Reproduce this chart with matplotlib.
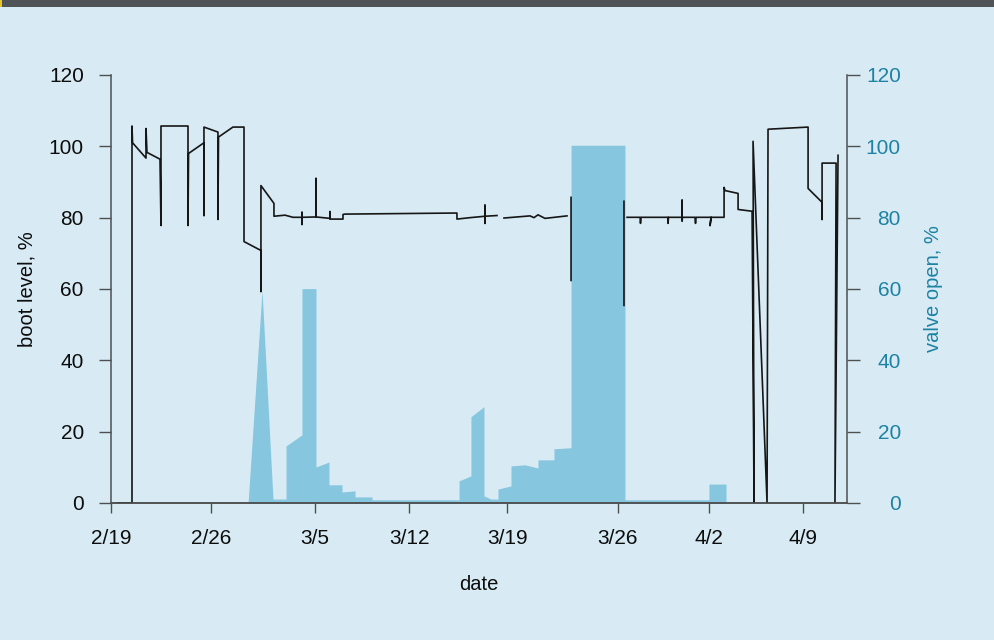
import numpy as np
import matplotlib
matplotlib.use('Agg')
import matplotlib.pyplot as plt
from matplotlib.patches import Rectangle

nan = np.nan

# days after 2/19 (tick positions as drawn in the original, slightly uneven)
tick_pos = [0, 7.14, 14.57, 21.29, 28.29, 36.21, 42.71, 49.43]
tick_labels = ['2/19', '2/26', '3/5', '3/12', '3/19', '3/26', '4/2', '4/9']

# boot level, % (black trace), nan = gap in the record
boot_day = [0.50, 1.50, 1.50, 1.54, 2.50, 2.50, 2.57, 3.50, 3.57, 3.57,
            5.50, 5.50, 5.54, 6.64, 6.64, 6.64, 7.64, 7.64, 7.68, 8.71,
            9.50, 9.50, 10.71, 10.71, 10.71, 11.64, 11.64, 12.43, 13.00,
            13.64, 13.64, 13.64, 13.64, 14.64, 14.64, 14.64, 15.64, 15.64,
            15.64, 16.57, 16.57, 16.71, 24.71, 24.71, 25.64, 26.71, 26.71,
            26.71, 26.71, 27.57, 27.60,
            28.07, 29.93, 30.21, 30.50, 31.00, 32.57, 32.60,
            32.86, 32.86, 32.90,
            36.64, 36.64, 36.70,
            36.86, 37.79, 37.82, 37.86, 39.79, 39.79, 39.82, 40.79, 40.79,
            40.79, 40.82, 41.71, 41.75, 41.79, 42.86, 42.79, 42.86, 43.79,
            43.79, 43.86, 44.79, 44.79, 45.79, 45.93, 45.86, 46.86, 46.93,
            49.79, 49.79, 50.79, 50.79, 50.79, 51.79, 51.71, 51.93]
boot_level = [0, 0, 105.7, 101.0, 96.7, 105.0, 98.3, 96.4, 77.8, 105.7,
              105.7, 77.8, 98.0, 101.0, 80.6, 105.4, 104.0, 79.5, 102.6, 105.4,
              105.4, 73.3, 70.8, 59.3, 89.0, 84.0, 80.4, 80.7, 80.1,
              80.1, 81.5, 78.1, 80.1, 80.2, 91.0, 80.2, 79.8, 81.7,
              79.6, 79.6, 80.9, 81.0, 81.3, 79.6, 80.0, 80.4, 83.5,
              78.4, 80.4, 80.6, nan,
              79.9, 80.5, 80.0, 80.8, 79.8, 80.5, nan,
              85.7, 62.4, nan,
              84.6, 55.4, nan,
              80.1, 80.1, 78.4, 80.1, 80.1, 78.4, 80.1, 80.1, 84.9,
              79.0, 80.1, 80.1, 78.4, 80.1, 80.1, 77.8, 80.1, 80.1,
              88.5, 87.6, 86.8, 82.3, 81.8, 0, 101.4, 0, 104.8,
              105.4, 88.2, 84.3, 79.5, 95.3, 95.3, 0, 97.5]

# valve open, % (filled area)
valve_day = [9.79, 10.79, 11.57, 12.50, 12.50, 13.64, 13.64, 14.64, 14.64,
             15.57, 15.57, 16.50, 16.50, 17.43, 17.43, 18.64, 18.64, 24.86,
             24.86, 25.71, 25.71, 26.64, 26.64, 27.14, 27.64, 27.64, 28.57,
             28.57, 29.57, 30.50, 30.50, 31.64, 31.64, 32.86, 32.86, 36.71,
             36.71, 42.71, 42.71, 43.93, 43.93]
valve_open = [0, 59.6, 1.1, 1.1, 16.0, 19.1, 60.1, 60.1, 10.1,
              11.5, 5.1, 5.1, 3.1, 3.4, 1.7, 1.7, 0.9, 0.9,
              6.2, 7.6, 24.2, 27.0, 2.0, 1.1, 1.1, 3.9, 4.8,
              10.4, 10.7, 9.8, 12.1, 12.1, 15.2, 15.5, 100.3, 100.3,
              0.9, 0.9, 5.3, 5.3, 0]

bg = '#d8ebf4'
spine_c = '#4d4f50'
teal = '#1d82a3'
fill_c = '#86c6df'

plt.rcParams['font.family'] = ['Liberation Sans', 'DejaVu Sans']

fig = plt.figure(figsize=(9.95, 6.4), dpi=100, facecolor=bg)
ax = fig.add_axes([111 / 995, 1 - 503 / 640, 736 / 995, 428 / 640])
ax2 = ax.twinx()
ax.set_facecolor(bg)

ax2.fill_between(valve_day, 0, valve_open, color=fill_c, lw=0)
ax.plot(boot_day, boot_level, color='#161616', lw=1.2)

# black trace on top of the fill
ax.set_zorder(2)
ax.patch.set_visible(False)
ax2.set_zorder(1)
ax2.patch.set_visible(True)
ax2.patch.set_facecolor(bg)

for a in (ax, ax2):
    a.set_xlim(0, 52.57)
    a.set_ylim(0, 120)
    a.set_yticks(range(0, 121, 20))
    a.spines['top'].set_visible(False)
    for s in ('left', 'right', 'bottom'):
        a.spines[s].set_color(spine_c)
        a.spines[s].set_linewidth(1.1)
ax.spines['right'].set_visible(False)
ax2.spines['left'].set_visible(False)

ax.set_xticks(tick_pos)
ax.set_xticklabels(tick_labels)
ax.tick_params(axis='x', length=7.5, width=1.0, color=spine_c, pad=11,
               labelsize=15, labelcolor='#0d0d0d')
ax.tick_params(axis='y', length=8.6, width=1.0, color=spine_c, pad=11,
               labelsize=15, labelcolor='#0d0d0d')
ax2.tick_params(axis='y', length=9.3, width=1.0, color=spine_c, pad=29.5,
                labelsize=15, labelcolor=teal)
for t in ax2.get_yticklabels():
    t.set_horizontalalignment('right')

ax.set_xlabel('date', fontsize=14.5, color='#0d0d0d')
ax.xaxis.set_label_coords(0.5, -0.19)
ax.xaxis.label.set_va('center')
ax.set_ylabel('boot level, %', fontsize=14.5, color='#0d0d0d')
ax.yaxis.set_label_coords(-0.114, 0.5)
ax.yaxis.label.set_va('center')
ax2.set_ylabel('valve open, %', fontsize=14.5, color=teal)
ax2.yaxis.set_label_coords(1.118, 0.5)
ax2.yaxis.label.set_va('center')

# dark strip along the top edge
fig.patches.append(Rectangle((0, 1 - 7 / 640), 1, 7 / 640, transform=fig.transFigure,
                             facecolor='#505456', edgecolor='none'))
fig.patches.append(Rectangle((0, 1 - 7 / 640), 2 / 995, 7 / 640, transform=fig.transFigure,
                             facecolor='#e8c42a', edgecolor='none'))

fig.savefig('out.png', dpi=100, facecolor=bg)
